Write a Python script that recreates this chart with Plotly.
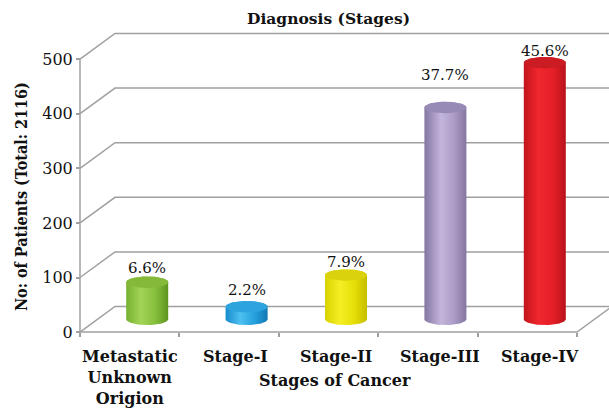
import numpy as np
import plotly.graph_objects as go

# ---- data ----
categories = ["Metastatic<br>Unknown<br>Origion", "Stage-I", "Stage-II", "Stage-III", "Stage-IV"]
patients = [68, 23, 81, 388, 470]
y_ticks = [0, 100, 200, 300, 400, 500]

total = sum(patients)
shares = [f"{100 * p / total:.1f}%" for p in patients]

# ---- styling ----
W, H = 609, 414
px_x = 99.4                 # pixels per category unit
px_y = 277 / 500            # pixels per patient unit
depth_px = (35, 26)         # pseudo-3D depth offset (right, up)
DX = depth_px[0] / px_x
DY = depth_px[1] / px_y
GRID = "#a0a0a0"
FONT = "DejaVu Serif"
FONT_NARROW = "DejaVu Serif Condensed, DejaVu Serif, serif"

body_scales = [
    [[0, "#78b22f"], [0.35, "#a3d457"], [0.7, "#86bf3b"], [1, "#5e9420"]],
    [[0, "#178bcb"], [0.35, "#4dc0f0"], [0.7, "#259fdc"], [1, "#1176b2"]],
    [[0, "#d9d200"], [0.35, "#f4ee24"], [0.7, "#e6df08"], [1, "#c6bd00"]],
    [[0, "#8576a2"], [0.4, "#c3b5db"], [0.7, "#ac9dc8"], [1, "#85769f"]],
    [[0, "#c3141c"], [0.35, "#f0262d"], [0.7, "#e41f27"], [1, "#b8121a"]],
]
top_colors = ["#84b93a", "#2ea4df", "#d9d20c", "#988ab6", "#cc1c23"]
label_lift = [14, 17, 13, 32, 12]      # px above each cylinder top
cat_shift = [0, 6, 7, 12, 13]          # px nudge of category labels

half_w = 21 / px_x
ry = 5.8 / px_y

fig = go.Figure()

# back-wall gridlines with the slanted side-wall segment
n = len(categories)
x_end = n + DX
for v in y_ticks:
    fig.add_trace(go.Scatter(
        x=[0, DX, x_end], y=[v, v + DY, v + DY], mode="lines",
        line=dict(color=GRID, width=1.5), hoverinfo="skip", showlegend=False))

# floor front edge, right edge and the vertical value axis
fig.add_trace(go.Scatter(
    x=[0, n, n + DX], y=[0, 0, DY], mode="lines",
    line=dict(color=GRID, width=1.5), hoverinfo="skip", showlegend=False))
fig.add_trace(go.Scatter(
    x=[0, 0], y=[0, y_ticks[-1]], mode="lines",
    line=dict(color=GRID, width=1.5), hoverinfo="skip", showlegend=False))

# cylinders
t_low = np.linspace(np.pi, 2 * np.pi, 40)
t_up = np.linspace(0, np.pi, 40)
t_all = np.linspace(0, 2 * np.pi, 80)
for i, val in enumerate(patients):
    xc = i + 0.5 + DX / 2
    base = DY / 2
    top = base + val
    bx = np.concatenate([xc + half_w * np.cos(t_low), xc + half_w * np.cos(t_up)])
    by = np.concatenate([base + ry * np.sin(t_low), top + ry * np.sin(t_up)])
    fig.add_trace(go.Scatter(
        x=np.append(bx, bx[0]), y=np.append(by, by[0]), mode="lines",
        fill="toself", line=dict(width=0),
        fillgradient=dict(type="horizontal", colorscale=body_scales[i]),
        hoverinfo="skip", showlegend=False))
    fig.add_trace(go.Scatter(
        x=xc + half_w * np.cos(t_all), y=top + ry * np.sin(t_all), mode="lines",
        fill="toself", fillcolor=top_colors[i], line=dict(width=0),
        hoverinfo="skip", showlegend=False))
    fig.add_annotation(
        x=xc, y=top, text=shares[i], showarrow=False, yshift=label_lift[i],
        yanchor="middle", font=dict(family=FONT, size=15, color="#111"))
    fig.add_annotation(
        x=i + 0.5, y=0, text=f"<b>{categories[i]}</b>", showarrow=False,
        xshift=cat_shift[i], yanchor="top", yshift=-13,
        font=dict(family=FONT, size=16, color="#111"))

# titles
fig.add_annotation(
    x=(n / 2), y=0, xshift=6, yshift=-37, text="<b>Stages of Cancer</b>",
    showarrow=False, yanchor="top", font=dict(family=FONT, size=16, color="#111"))
fig.add_annotation(
    xref="paper", yref="paper", x=328 / W, y=1 - 19 / H, text="<b>Diagnosis (Stages)</b>",
    showarrow=False, xanchor="center", yanchor="middle",
    font=dict(family=FONT, size=15.5, color="#111"))
fig.add_annotation(
    xref="paper", yref="paper", x=21 / W, y=1 - 200 / H,
    text="<b>No: of Patients (Total: 2116)</b>", textangle=-90,
    showarrow=False, xanchor="center", yanchor="middle",
    font=dict(family=FONT_NARROW, size=16, color="#111"))

x0_px, y0_px = 80, 337
left_px, bottom_px, top_px = 76, 341, 28
fig.update_layout(
    width=W, height=H, margin=dict(l=0, r=0, t=0, b=0),
    paper_bgcolor="white", plot_bgcolor="white",
    xaxis=dict(
        domain=[left_px / W, 1],
        range=[-(x0_px - left_px) / px_x, (W - x0_px) / px_x],
        anchor="free", position=(H - y0_px) / H,
        showgrid=False, zeroline=False, showline=False,
        showticklabels=False, ticks="",
        minor=dict(tickmode="array", tickvals=list(range(n + 1)),
                   ticks="outside", ticklen=4, tickcolor=GRID, tickwidth=1.5,
                   showgrid=False),
    ),
    yaxis=dict(
        domain=[(H - bottom_px) / H, (H - top_px) / H],
        range=[-(bottom_px - y0_px) / px_y, (y0_px - top_px) / px_y],
        anchor="free", position=x0_px / W,
        tickmode="array", tickvals=y_ticks, ticks="outside", ticklen=4,
        tickcolor=GRID, tickwidth=1.5, showgrid=False, zeroline=False,
        showline=False, tickfont=dict(family=FONT, size=16, color="#111"),
    ),
)

fig.write_html("out.html")
